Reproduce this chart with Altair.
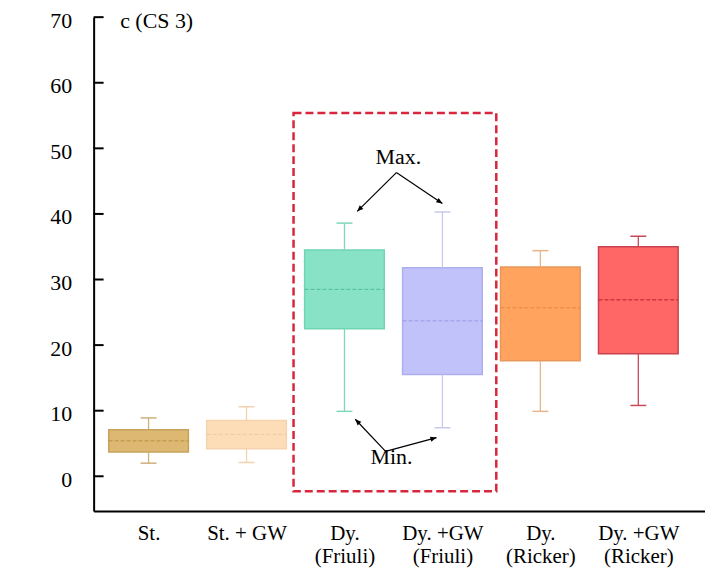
import json
import math
import altair as alt
import pandas as pd

# ---- data ----
categories = ["St.", "St. + GW", "Dy.|(Friuli)", "Dy. +GW|(Friuli)", "Dy.|(Ricker)", "Dy. +GW|(Ricker)"]
mins = [2.0, 2.1, 9.9, 7.4, 9.9, 10.8]
q1s = [3.7, 4.2, 22.5, 15.5, 17.6, 18.7]
medians = [5.4, 6.4, 28.5, 23.7, 25.7, 26.9]
q3s = [7.1, 8.5, 34.5, 31.8, 31.9, 35.0]
maxs = [8.9, 10.6, 38.6, 40.3, 34.4, 36.6]

y_ticks = [0, 10, 20, 30, 40, 50, 60, 70]

# styles
fills = ["#DDB872", "#FDDDB8", "#88E3C6", "#C2C2FB", "#FFA35E", "#FF6666"]
strokes = ["#C8A25C", "#F5D3AE", "#70D5B2", "#AEAEEE", "#E8975C", "#C94250"]
whisk = ["#CDB07A", "#F2D2B0", "#7ED8BA", "#C8C8EA", "#E8B48C", "#C84A5A"]
medc = ["#B89040", "#F0C8A0", "#52BA92", "#9A9AE2", "#E08A42", "#B4202E"]

# annotation (data coordinates)
arrow_x1 = [2.53, 2.53, 2.42, 2.42]
arrow_y1 = [46.3, 46.3, 3.8, 3.8]
arrow_x2 = [2.13, 3.0, 2.11, 2.94]
arrow_y2 = [40.4, 41.6, 8.7, 5.9]
note_text = ["Max.", "Min."]
note_x = [2.55, 2.48]
note_y = [48.6, 2.9]
box_region = {"x": 1.48, "x2": 3.55, "y": 55.4, "y2": -2.3}

FONT = "Liberation Serif"
W, H = 614, 496
XDOM = [-0.51, 5.63]
YDOM = [-5.3, 70]

df = pd.DataFrame({
    "i": list(range(len(categories))),
    "min": mins, "q1": q1s, "med": medians, "q3": q3s, "max": maxs,
    "fill": fills, "stroke": strokes, "wc": whisk, "mc": medc,
})

xs = alt.Scale(domain=XDOM, nice=False, zero=False)
ys = alt.Scale(domain=YDOM, nice=False, zero=False)


def xq(field):
    return alt.X(field, scale=xs, title=None)


def yq(field):
    return alt.Y(field, scale=ys, title=None)


label_lines = [c.split("|") if "|" in c else c for c in categories]
label_expr = json.dumps(label_lines) + "[datum.value]"

X = alt.X("i:Q", scale=xs, title=None, axis=alt.Axis(
    values=list(range(len(categories))), labelExpr=label_expr))
Y = alt.Y("q1:Q", scale=ys, title="Displacement, m", axis=alt.Axis(values=y_ticks))

base = alt.Chart(df)

boxes = base.mark_bar(size=80, strokeWidth=1.5).encode(
    x=X, y=Y, y2="q3:Q",
    fill=alt.Fill("fill:N", scale=None), stroke=alt.Stroke("stroke:N", scale=None))
whisk_lo = base.mark_rule(strokeWidth=1.3).encode(
    x=xq("i:Q"), y=yq("min:Q"), y2="q1:Q",
    stroke=alt.Stroke("wc:N", scale=None))
whisk_hi = base.mark_rule(strokeWidth=1.3).encode(
    x=xq("i:Q"), y=yq("q3:Q"), y2="max:Q",
    stroke=alt.Stroke("wc:N", scale=None))
cap_lo = base.mark_rule(strokeWidth=1.5, xOffset=-8, x2Offset=8).encode(
    x=xq("i:Q"), x2="i:Q", y=yq("min:Q"),
    stroke=alt.Stroke("wc:N", scale=None))
cap_hi = base.mark_rule(strokeWidth=1.5, xOffset=-8, x2Offset=8).encode(
    x=xq("i:Q"), x2="i:Q", y=yq("max:Q"),
    stroke=alt.Stroke("wc:N", scale=None))
med_line = base.mark_rule(strokeWidth=1, strokeDash=[4, 2], xOffset=-40, x2Offset=40).encode(
    x=xq("i:Q"), x2="i:Q", y=yq("med:Q"),
    stroke=alt.Stroke("mc:N", scale=None))

# inward y ticks
tick_df = pd.DataFrame({"v": y_ticks})
yticks = alt.Chart(tick_df).mark_rule(color="black", strokeWidth=2).encode(
    y=yq("v:Q"), x=alt.value(0), x2=alt.value(10))

# panel label
title_df = pd.DataFrame({"x": [-0.29], "y": [68.3], "t": ["c (CS 3)"]})
panel = alt.Chart(title_df).mark_text(font=FONT, fontSize=22, align="left",
                                      baseline="alphabetic", color="black").encode(
    x=xq("x:Q"), y=yq("y:Q"), text="t:N")

# dashed region
reg_df = pd.DataFrame([box_region])
region = alt.Chart(reg_df).mark_rect(filled=False, stroke="#D7263D", strokeWidth=2.5,
                                     strokeDash=[8, 4]).encode(
    x=xq("x:Q"), x2="x2:Q", y=yq("y:Q"), y2="y2:Q")

# arrows
px_x = W / (XDOM[1] - XDOM[0])
px_y = H / (YDOM[1] - YDOM[0])
angles = []
for a, b, c, d in zip(arrow_x1, arrow_y1, arrow_x2, arrow_y2):
    dx = (c - a) * px_x
    dy = -(d - b) * px_y
    angles.append(math.degrees(math.atan2(dx, -dy)) % 360)
arr_df = pd.DataFrame({"x1": arrow_x1, "y1": arrow_y1, "x2": arrow_x2,
                       "y2": arrow_y2, "ang": angles})
arr_lines = alt.Chart(arr_df).mark_rule(color="black", strokeWidth=1.2).encode(
    x=xq("x1:Q"), y=yq("y1:Q"), x2="x2:Q", y2="y2:Q")
arr_heads = alt.Chart(arr_df).mark_point(
    shape="M0,0L-0.42,1L0.42,1Z", filled=True, color="black", size=150, opacity=1,
    strokeWidth=0).encode(
    x=xq("x2:Q"), y=yq("y2:Q"),
    angle=alt.Angle("ang:Q", scale=None))

note_df = pd.DataFrame({"x": note_x, "y": note_y, "t": note_text})
notes = alt.Chart(note_df).mark_text(font=FONT, fontSize=22, color="black",
                                     align="center", baseline="middle").encode(
    x=xq("x:Q"), y=yq("y:Q"), text="t:N")

chart = alt.layer(
    boxes, whisk_lo, whisk_hi, cap_lo, cap_hi, med_line, yticks, panel,
    region, arr_lines, arr_heads, notes
).properties(
    width=W, height=H,
    autosize=alt.AutoSizeParams(type="none"),
    padding={"left": 86, "top": 8, "right": 0, "bottom": 57},
    background="white",
).configure_view(stroke=None).configure_axis(
    ticks=False, tickSize=0, grid=False, domain=True, domainColor="black",
    domainWidth=2, labelFont=FONT, labelColor="black", labelOverlap=False,
    labelFlush=False, titleFont=FONT, titleColor="black",
).configure_axisX(
    labelFontSize=21, labelBaseline="top", labelPadding=12, labelLineHeight=23,
    labelAngle=0,
).configure_axisY(
    labelFontSize=22, labelPadding=22, labelBaseline="middle", labelOffset=3,
    titleFontSize=21, titleFontWeight="bold", titleX=-71, titleY=226,
    titleAngle=-90, titleAlign="center", titleBaseline="middle",
)

chart.save("out.html", embed_options={"renderer": "svg", "actions": False})
